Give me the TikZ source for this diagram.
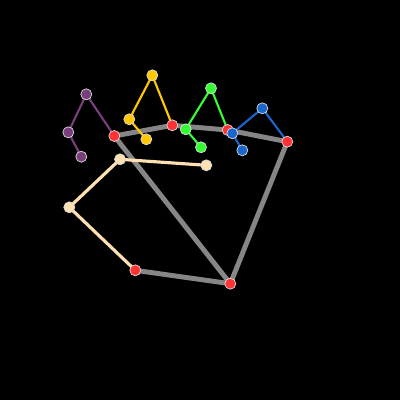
\documentclass[tikz,border=0pt]{standalone}
\begin{document}
\begin{tikzpicture}[x=0.01cm,y=-0.01cm,
  jt/.style={circle,inner sep=0pt,minimum size=0.11cm,draw=white!85!black,line width=0.2pt},
  palm/.style={draw=gray!95!white,line width=1.4pt},
  bone/.style={line width=0.6pt},
]
\definecolor{cred}{RGB}{255,51,51}
\definecolor{cpur}{RGB}{122,62,124}
\definecolor{cyel}{RGB}{255,200,0}
\definecolor{cgrn}{RGB}{51,255,51}
\definecolor{cblu}{RGB}{26,102,204}
\definecolor{cbei}{RGB}{255,224,178}
\fill[black] (0,0) rectangle (400,400);
\useasboundingbox (0,0) rectangle (400,400);
% coordinates
\coordinate (W) at (230.3,283.7);
\coordinate (T0) at (135.3,270.3);
\coordinate (T1) at (69.3,207.3);
\coordinate (T2) at (120,159.3);
\coordinate (T3) at (206.3,165.3);
\coordinate (I0) at (114.3,136);
\coordinate (I1) at (86.3,94.3);
\coordinate (I2) at (68.3,132.3);
\coordinate (I3) at (81.3,156.7);
\coordinate (M0) at (172.3,125.3);
\coordinate (M1) at (152.3,75.3);
\coordinate (M2) at (129.3,119.3);
\coordinate (M3) at (146.3,139.3);
\coordinate (R0) at (227.7,130);
\coordinate (R1) at (211,88.3);
\coordinate (R2) at (185.7,129.3);
\coordinate (R3) at (201,147.3);
\coordinate (P0) at (287.3,141.7);
\coordinate (P1) at (262.3,108.3);
\coordinate (P2) at (232.3,133.3);
\coordinate (P3) at (242.3,150.3);
% palm
\draw[palm] (T0) -- (W) -- (P0);
\draw[palm] (W) -- (I0);
\draw[palm] (I0) -- (M0) -- (R0) -- (P0);
% fingers
\draw[cbei,line width=0.9pt] (T0) -- (T1) -- (T2) -- (T3);
\draw[cpur,bone] (I0) -- (I1) -- (I2) -- (I3);
\draw[cyel,bone] (M0) -- (M1) -- (M2) -- (M3);
\draw[cgrn,bone] (R0) -- (R1) -- (R2) -- (R3);
\draw[cblu,bone] (P0) -- (P1) -- (P2) -- (P3);
% joints
\foreach \p in {W,T0,I0,M0,R0,P0} \node[jt,fill=cred] (n\p) at (\p) {};
\foreach \p in {T1,T2,T3} \node[jt,fill=cbei] (n\p) at (\p) {};
\foreach \p in {I1,I2,I3} \node[jt,fill=cpur] (n\p) at (\p) {};
\foreach \p in {M1,M2,M3} \node[jt,fill=cyel] (n\p) at (\p) {};
\foreach \p in {R1,R2,R3} \node[jt,fill=cgrn] (n\p) at (\p) {};
\foreach \p in {P1,P2,P3} \node[jt,fill=cblu] (n\p) at (\p) {};
\end{tikzpicture}
\end{document}
